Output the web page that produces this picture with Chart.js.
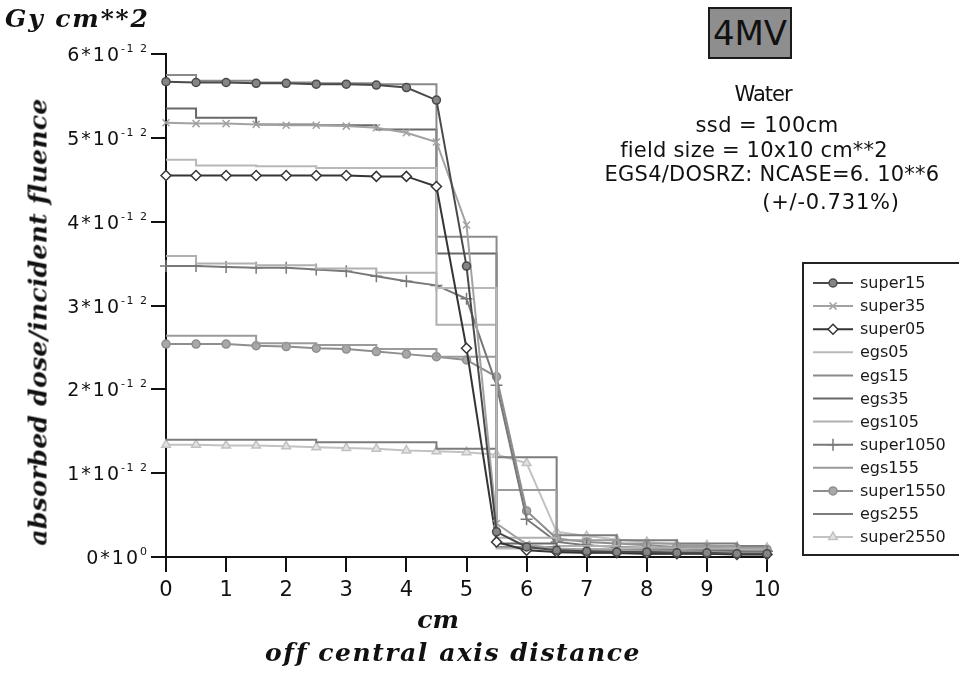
<!DOCTYPE html>
<html>
<head>
<meta charset="utf-8">
<script src="https://cdn.jsdelivr.net/npm/chart.js@4.4.0/dist/chart.umd.min.js"></script>
<style>
  body { margin: 0; background: #fff; }
  #wrap { position: relative; width: 959px; height: 673px; overflow: hidden; background: #fff; }
  #plot { position: absolute; left: 0; top: 0; }
  .lbl { position: absolute; white-space: nowrap; color: #111; line-height: normal; }
  .sans { font-family: "DejaVu Sans", sans-serif; font-size: 21px; }
  .serif { font-family: "DejaVu Serif", serif; font-size: 25px; font-style: italic; font-weight: bold; }
  .mid { transform: translateX(-50%); }
  #beam { position: absolute; left: 708px; top: 7px; width: 84px; height: 52px; box-sizing: border-box;
          background: #8e8e8e; border: 2px solid #1a1a1a; font: 34px "DejaVu Sans", sans-serif;
          line-height: 48px; text-align: center; color: #111; }
</style>
</head>
<body>
<div id="wrap">
  <canvas id="plot" width="959" height="673"></canvas>

  <div class="lbl serif" data-fit="145" style="left:5px; top:4px;">Gy cm**2</div>
  <div class="lbl serif" id="yTitle" data-fit="445" style="left:38px; top:322px; transform: translate(-50%, -50%) rotate(-90deg);">absorbed dose/incident fluence</div>
  <div class="lbl serif mid" style="left:438px; top:605px;">cm</div>
  <div class="lbl serif mid" data-fit="375" style="left:453px; top:638px;">off central axis distance</div>

  <div id="beam">4MV</div>
  <div class="lbl sans mid" data-fit="57" style="left:763px; top:82px;">Water</div>
  <div class="lbl sans mid" data-fit="143" style="left:767px; top:113px;">ssd = 100cm</div>
  <div class="lbl sans mid" data-fit="268" style="left:754px; top:138px;">field size = 10x10 cm**2</div>
  <div class="lbl sans mid" data-fit="335" style="left:772px; top:162px;">EGS4/DOSRZ: NCASE=6. 10**6</div>
  <div class="lbl sans mid" data-fit="138" style="left:831px; top:190px;">(+/-0.731%)</div>
</div>

<script>
// dose values are in units of 10^-12 Gy cm^2
const superX = [0, 0.5, 1, 1.5, 2, 2.5, 3, 3.5, 4, 4.5, 5, 5.5, 6, 6.5, 7, 7.5, 8, 8.5, 9, 9.5, 10];
const binEdges = [0, 0.5, 1.5, 2.5, 3.5, 4.5, 5.5, 6.5, 7.5, 8.5, 9.5, 10];

const super15   = [5.67, 5.66, 5.66, 5.65, 5.65, 5.64, 5.64, 5.63, 5.60, 5.45, 3.47, 0.30, 0.12, 0.08, 0.07, 0.06, 0.06, 0.05, 0.05, 0.04, 0.04];
const super35   = [5.18, 5.17, 5.17, 5.16, 5.15, 5.15, 5.14, 5.12, 5.06, 4.95, 3.96, 0.40, 0.15, 0.10, 0.09, 0.08, 0.07, 0.07, 0.06, 0.05, 0.05];
const super05   = [4.55, 4.55, 4.55, 4.55, 4.55, 4.55, 4.55, 4.54, 4.54, 4.42, 2.49, 0.18, 0.08, 0.06, 0.05, 0.05, 0.04, 0.04, 0.04, 0.03, 0.03];
const super1050 = [3.47, 3.47, 3.46, 3.45, 3.45, 3.43, 3.41, 3.35, 3.29, 3.24, 3.08, 2.05, 0.45, 0.18, 0.14, 0.12, 0.11, 0.10, 0.09, 0.08, 0.07];
const super1550 = [2.54, 2.54, 2.54, 2.52, 2.51, 2.49, 2.48, 2.45, 2.42, 2.39, 2.35, 2.15, 0.55, 0.22, 0.18, 0.16, 0.14, 0.12, 0.11, 0.10, 0.09];
const super2550 = [1.34, 1.34, 1.33, 1.33, 1.32, 1.31, 1.30, 1.29, 1.27, 1.26, 1.25, 1.22, 1.12, 0.30, 0.25, 0.21, 0.18, 0.15, 0.14, 0.12, 0.11];

// one value per bin between consecutive binEdges
const egs05  = [4.74, 4.67, 4.66, 4.64, 4.64, 3.21, 0.10, 0.05, 0.04, 0.04, 0.03];
const egs15  = [5.75, 5.68, 5.66, 5.65, 5.64, 3.82, 0.12, 0.07, 0.06, 0.05, 0.04];
const egs35  = [5.35, 5.24, 5.16, 5.15, 5.10, 3.62, 0.16, 0.09, 0.08, 0.07, 0.06];
const egs105 = [3.59, 3.50, 3.48, 3.44, 3.39, 2.77, 0.23, 0.13, 0.11, 0.10, 0.09];
const egs155 = [2.64, 2.64, 2.55, 2.53, 2.48, 2.39, 0.80, 0.20, 0.16, 0.13, 0.11];
const egs255 = [1.40, 1.40, 1.40, 1.37, 1.37, 1.29, 1.19, 0.26, 0.20, 0.16, 0.13];

const xTicks = [0, 1, 2, 3, 4, 5, 6, 7, 8, 9, 10];
const yTicks = [0, 1, 2, 3, 4, 5, 6];
const yTickText  = ['0*10', '1*10', '2*10', '3*10', '4*10', '5*10', '6*10'];
const yTickPower = ['0', '-1 2', '-1 2', '-1 2', '-1 2', '-1 2', '-1 2'];

function curve(label, values, color, pointStyle, radius, fill) {
    return {
        label,
        data: values.map((v, i) => ({ x: superX[i], y: v })),
        borderColor: color,
        borderWidth: 2,
        pointStyle,
        pointRadius: radius,
        pointBackgroundColor: fill,
        pointBorderColor: color,
        pointBorderWidth: 1.5,
        clip: false
    };
}

// histogram drawn as a step line through the bin edges
function histogram(label, values, color) {
    return {
        label,
        data: binEdges.map((e, i) => ({ x: e, y: values[Math.min(i, values.length - 1)] })),
        borderColor: color,
        borderWidth: 2,
        pointRadius: 0,
        pointStyle: false,
        stepped: 'before',
        clip: false
    };
}

const datasets = [
    curve('super15', super15, '#4a4a4a', 'circle', 4, '#858585'),
    curve('super35', super35, '#a2a2a2', 'crossRot', 5, '#a2a2a2'),
    curve('super05', super05, '#353535', 'rectRot', 5, '#ffffff'),
    histogram('egs05', egs05, '#b8b8b8'),
    histogram('egs15', egs15, '#8a8a8a'),
    histogram('egs35', egs35, '#686868'),
    histogram('egs105', egs105, '#b0b0b0'),
    curve('super1050', super1050, '#787878', 'cross', 6, '#787878'),
    histogram('egs155', egs155, '#9a9a9a'),
    curve('super1550', super1550, '#8e8e8e', 'circle', 4, '#a8a8a8'),
    histogram('egs255', egs255, '#7c7c7c'),
    curve('super2550', super2550, '#c2c2c2', 'triangle', 5, '#e2e2e2')
];

// y labels in the form 6*10^-12, exponent raised and smaller
const yLabelPlugin = {
    id: 'yLabels',
    afterDraw(chart) {
        const s = chart.scales.y, ctx = chart.ctx;
        ctx.save();
        ctx.fillStyle = '#111';
        ctx.textBaseline = 'alphabetic';
        s.ticks.forEach((t, i) => {
            const y = s.getPixelForValue(t.value);
            ctx.font = '11px "DejaVu Sans"';
            const pw = spacedWidth(ctx, yTickPower[i], 1.5);
            ctx.font = '19px "DejaVu Sans"';
            const mw = spacedWidth(ctx, yTickText[i], 2);
            const right = 147;
            drawSpaced(ctx, yTickText[i], right - pw - mw - 2, y + 7, 2);
            ctx.font = '11px "DejaVu Sans"';
            drawSpaced(ctx, yTickPower[i], right - pw, y - 2, 1.5);
        });
        ctx.restore();
    }
};

function spacedWidth(ctx, str, gap) {
    let w = 0;
    for (const ch of str) w += ctx.measureText(ch).width + gap;
    return w - gap;
}

function drawSpaced(ctx, str, x, y, gap) {
    for (const ch of str) {
        ctx.fillText(ch, x, y);
        x += ctx.measureText(ch).width + gap;
    }
}

// boxed legend: line sample, marker, name
const legendPlugin = {
    id: 'boxLegend',
    afterDraw(chart) {
        const ctx = chart.ctx;
        const left = 803, top = 263, rowH = 23.1;
        ctx.save();
        ctx.fillStyle = '#fff';
        ctx.fillRect(left, top, 170, 292);
        ctx.strokeStyle = '#222';
        ctx.lineWidth = 2;
        ctx.strokeRect(left, top, 170, 292);
        chart.data.datasets.forEach((ds, i) => {
            const y = top + 20 + i * rowH;
            ctx.strokeStyle = ds.borderColor;
            ctx.lineWidth = 2;
            ctx.beginPath();
            ctx.moveTo(left + 10, y);
            ctx.lineTo(left + 50, y);
            ctx.stroke();
            if (ds.pointRadius > 0) {
                ctx.fillStyle = ds.pointBackgroundColor;
                ctx.strokeStyle = ds.pointBorderColor;
                ctx.lineWidth = ds.pointBorderWidth;
                Chart.helpers.drawPoint(ctx, {
                    pointStyle: ds.pointStyle, radius: ds.pointRadius, rotation: 0, borderWidth: ds.pointBorderWidth
                }, left + 30, y);
            }
            ctx.fillStyle = '#1a1a1a';
            ctx.font = '16px "DejaVu Sans"';
            ctx.textBaseline = 'middle';
            ctx.fillText(ds.label, left + 57, y + 1);
        });
        ctx.restore();
    }
};

const axisLine = { color: '#111', width: 2 };
const tickMarks = { drawOnChartArea: false, drawTicks: true, tickLength: 15, color: '#111', lineWidth: 2 };

new Chart(document.getElementById('plot').getContext('2d'), {
    type: 'line',
    data: { datasets },
    options: {
        responsive: false,
        animation: false,
        layout: { padding: { left: 0, right: 192, top: 54, bottom: 0 } },
        plugins: { legend: { display: false }, tooltip: { enabled: false } },
        scales: {
            x: {
                type: 'linear', min: 0, max: 10,
                afterBuildTicks: s => { s.ticks = xTicks.map(v => ({ value: v })); },
                ticks: { color: '#111', font: { family: 'DejaVu Sans', size: 21 }, padding: 6, maxRotation: 0 },
                grid: tickMarks,
                border: axisLine,
                afterFit: s => { s.height = 116; }
            },
            y: {
                min: 0, max: 6,
                afterBuildTicks: s => { s.ticks = yTicks.map(v => ({ value: v })); },
                ticks: { callback: () => '' },
                grid: tickMarks,
                border: axisLine,
                afterFit: s => { s.width = 166; }
            }
        }
    },
    plugins: [yLabelPlugin, legendPlugin]
});

// stretch label spacing so each text covers its target width
document.querySelectorAll('[data-fit]').forEach(el => {
    const target = Number(el.dataset.fit);
    const extra = (target - el.offsetWidth) / el.textContent.length;
    el.style.letterSpacing = extra + 'px';
});
</script>
</body>
</html>
